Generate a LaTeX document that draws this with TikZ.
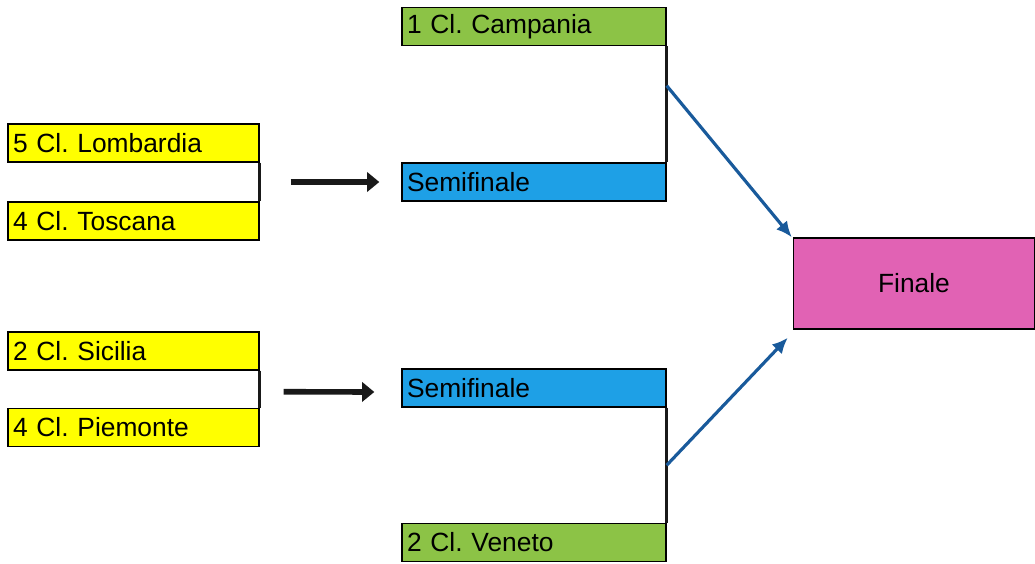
\documentclass[tikz,border=0pt]{standalone}
\usepackage{fontspec}
\setmainfont{Liberation Sans}
\usetikzlibrary{positioning,arrows.meta}
\definecolor{giallo}{RGB}{255,255,0}
\definecolor{verde}{RGB}{140,195,70}
\definecolor{azzurro}{RGB}{30,160,230}
\definecolor{rosa}{RGB}{225,98,180}
\definecolor{blufreccia}{RGB}{25,90,155}
\frenchspacing
\begin{document}
\begin{tikzpicture}[x=0.02cm,y=-0.02cm,
    squadra/.style={draw,line width=0.8pt,minimum height=0.76cm,inner xsep=0.1cm,
        align=left,font=\fontsize{15}{17}\selectfont},
    gialla/.style={squadra,fill=giallo,text width=4.82cm},
    verde/.style={squadra,fill=verde,text width=5.08cm},
    semi/.style={squadra,fill=azzurro,text width=5.08cm},
    staffa/.style={line width=1.5pt,black!90},
    avanza/.style={line width=3.2pt,black!90,-{Triangle[length=7pt,width=11pt]}},
    finale/.style={line width=1.8pt,blufreccia,-{Latex[length=9pt,width=8pt]}}]
    \useasboundingbox (0,0) rectangle (1035,564);

    \node [gialla] (Lomb) at (133.5,143) {5 Cl. Lombardia};
    \node [gialla] (Tosc) at (133.5,221) {4 Cl. Toscana};
    \node [gialla] (Sici) at (133.5,351) {2 Cl. Sicilia};
    \node [gialla] (Piem) at (133.5,427.5) {4 Cl. Piemonte};

    \node [verde] (Camp) at (534,26.5) {1 Cl. Campania};
    \node [semi] (Semi1) at (534,182) {Semifinale};
    \node [semi] (Semi2) at (534,388) {Semifinale};
    \node [verde] (Vene) at (534,542.5) {2 Cl. Veneto};

    \node [draw,line width=0.8pt,fill=rosa,minimum width=4.82cm,minimum height=1.82cm,
        font=\fontsize{15}{17}\selectfont] (Fin) at (914,283.5) {Finale};

    % staffe tra le coppie
    \draw [staffa] (Lomb.south east) -- coordinate[midway] (m1) (Tosc.north east);
    \draw [staffa] (Sici.south east) -- coordinate[midway] (m2) (Piem.north east);
    \draw [staffa] (Camp.south east) -- coordinate[pos=0.34] (m3) (Semi1.north east);
    \draw [staffa] (Semi2.south east) -- coordinate[pos=0.5] (m4) (Vene.north east);

    \draw [avanza] ([xshift=0.62cm]m1) -- ([xshift=-0.44cm]Semi1.west);
    \draw [avanza] ([xshift=0.48cm,yshift=-0.05cm]m2) -- ([xshift=-0.54cm,yshift=-0.08cm]Semi2.west);

    \draw [finale] (m3) -- ([xshift=-0.02cm]Fin.north west);
    \draw [finale] (m4) -- ([xshift=-0.1cm,yshift=-0.16cm]Fin.south west);
\end{tikzpicture}
\end{document}
